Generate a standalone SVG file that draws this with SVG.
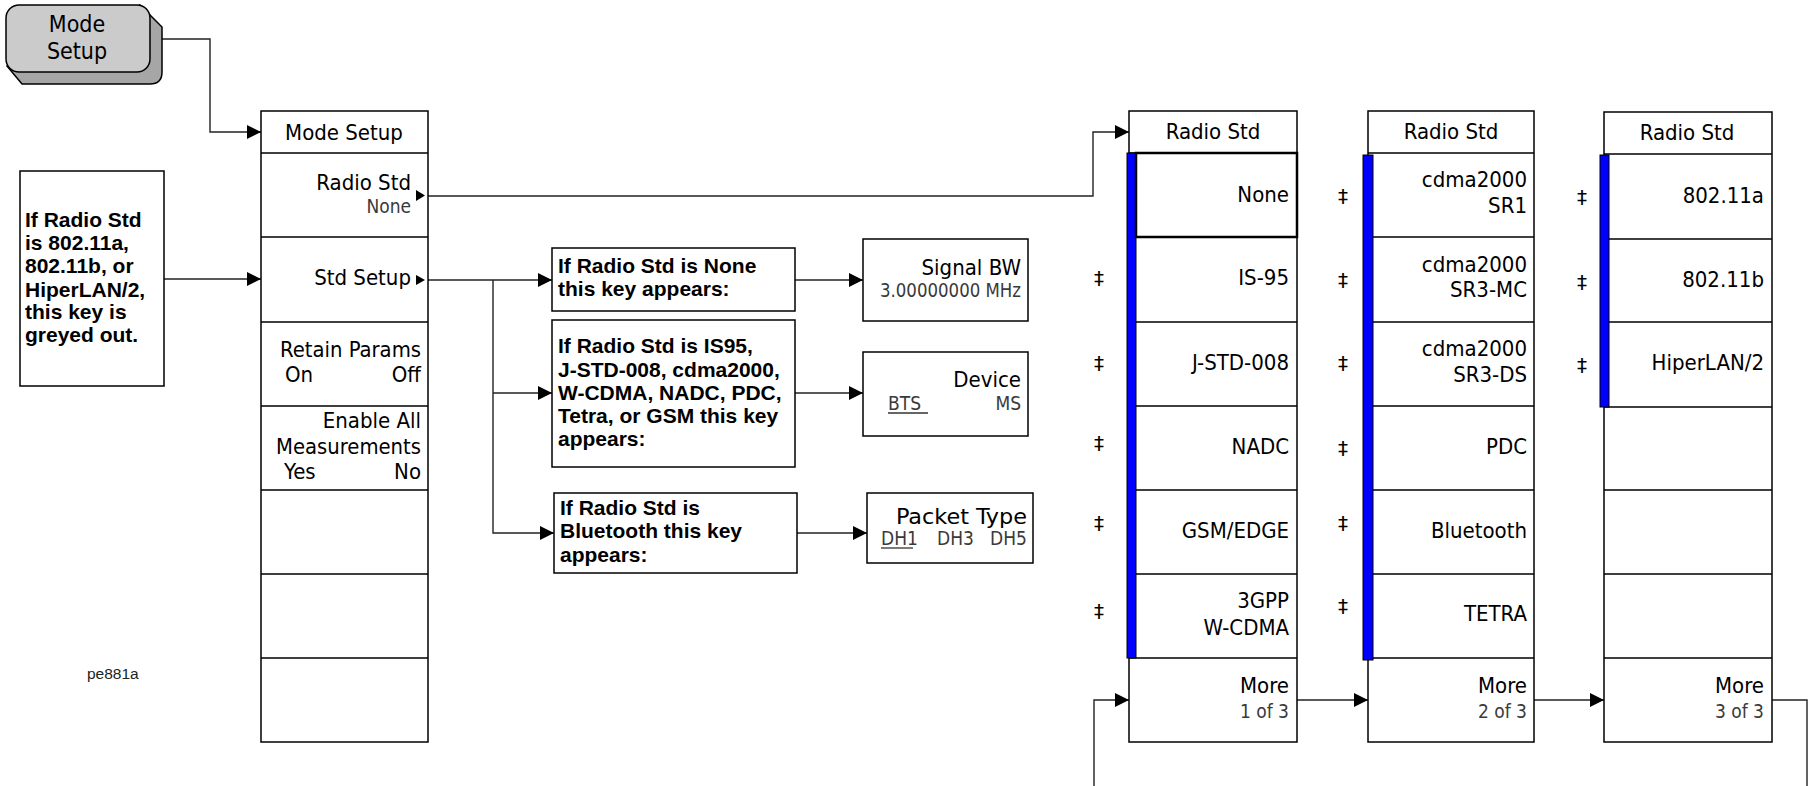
<svg xmlns="http://www.w3.org/2000/svg" width="1810" height="786" viewBox="0 0 1810 786">
<defs>
<marker id="arr" markerUnits="userSpaceOnUse" markerWidth="15" markerHeight="14" refX="14" refY="7" orient="auto">
<path d="M0,0 L14,7 L0,14 z" fill="#000"/>
</marker>
<style>
.box{fill:#fff;stroke:#000;stroke-width:1.5}
.div{stroke:#000;stroke-width:1.5;fill:none}
.conn{fill:none;stroke:#222;stroke-width:1.4}
.k,.ke,.kc{font-family:"DejaVu Sans Condensed","DejaVu Sans",sans-serif;font-stretch:condensed;font-size:22px;fill:#000}
.ke{text-anchor:end}
.kc{text-anchor:middle}
.g,.ge{font-family:"DejaVu Sans Condensed","DejaVu Sans",sans-serif;font-stretch:condensed;font-size:19px;fill:#3a3a3a}
.ge{text-anchor:end}
.n{font-family:"Liberation Sans",Arial,sans-serif;font-size:21px;font-weight:bold;fill:#000}
.dd{font-family:"DejaVu Sans",sans-serif;font-size:20px;fill:#000;text-anchor:middle}
.blue{fill:#0000ff;stroke:#000;stroke-width:1}
</style>
</defs>
<rect width="1810" height="786" fill="#fff"/>

<g id="connectors">
<path class="conn" d="M162,39 H210 V132 H261" marker-end="url(#arr)"/>
<path class="conn" d="M164,279 H261" marker-end="url(#arr)"/>
<path class="conn" d="M428,196 H1093 V132 H1129" marker-end="url(#arr)"/>
<path class="conn" d="M428,280 H552" marker-end="url(#arr)"/>
<path class="conn" d="M493,280 V533 H554" marker-end="url(#arr)"/>
<path class="conn" d="M493,393 H552" marker-end="url(#arr)"/>
<path class="conn" d="M795,280 H863" marker-end="url(#arr)"/>
<path class="conn" d="M795,393 H863" marker-end="url(#arr)"/>
<path class="conn" d="M797,533 H867" marker-end="url(#arr)"/>
<path class="conn" d="M1297,700 H1368" marker-end="url(#arr)"/>
<path class="conn" d="M1534,700 H1604" marker-end="url(#arr)"/>
<path class="conn" d="M1772,700 H1807 V786"/>
<path class="conn" d="M1094,786 V700 H1129" marker-end="url(#arr)"/>
</g>

<g id="mode-setup-key">
<path d="M140,5 L162,27 V72 Q162,84 150,84 H22 L7,66 Z" fill="#a6a6a6" stroke="#000" stroke-width="1.5"/>
<rect x="6" y="5" width="144" height="67" rx="13" fill="#cbcbcb" stroke="#000" stroke-width="1.5"/>
<text class="kc" x="77" y="32" style="font-size:23px">Mode</text>
<text class="kc" x="77" y="59" style="font-size:23px">Setup</text>
</g>

<g id="note-greyed">
<rect class="box" x="20" y="171" width="144" height="215"/>
<text class="n" x="25" y="227">If Radio Std</text>
<text class="n" x="25" y="250">is 802.11a,</text>
<text class="n" x="25" y="273">802.11b, or</text>
<text class="n" x="25" y="297">HiperLAN/2,</text>
<text class="n" x="25" y="319">this key is</text>
<text class="n" x="25" y="342">greyed out.</text>
</g>

<g id="mode-setup-menu">
<rect class="box" x="261" y="111" width="167" height="631"/>
<path class="div" d="M261,153 H428 M261,237 H428 M261,322 H428 M261,406 H428 M261,490 H428 M261,574 H428 M261,658 H428"/>
<text class="kc" x="344" y="140">Mode Setup</text>
<text class="ke" x="411" y="190">Radio Std</text>
<text class="ge" x="411" y="213">None</text>
<path d="M416,190 L425,195.5 L416,201 z" fill="#000"/>
<text class="ke" x="411" y="285">Std Setup</text>
<path d="M416,275 L425,280 L416,285 z" fill="#000"/>
<text class="ke" x="421" y="357" textLength="141" lengthAdjust="spacingAndGlyphs">Retain Params</text>
<text class="k" x="285" y="382">On</text>
<text class="ke" x="421" y="382">Off</text>
<text class="ke" x="421" y="428">Enable All</text>
<text class="ke" x="421" y="454" textLength="145" lengthAdjust="spacingAndGlyphs">Measurements</text>
<text class="k" x="284" y="479">Yes</text>
<text class="ke" x="421" y="479">No</text>
</g>

<g id="cond-none">
<rect class="box" x="552" y="248" width="243" height="63"/>
<text class="n" x="558" y="273">If Radio Std is None</text>
<text class="n" x="558" y="296">this key appears:</text>
</g>
<g id="cond-device">
<rect class="box" x="552" y="320" width="243" height="147"/>
<text class="n" x="558" y="353">If Radio Std is IS95,</text>
<text class="n" x="558" y="377">J-STD-008, cdma2000,</text>
<text class="n" x="558" y="400">W-CDMA, NADC, PDC,</text>
<text class="n" x="558" y="423">Tetra, or GSM this key</text>
<text class="n" x="558" y="446">appears:</text>
</g>
<g id="cond-bluetooth">
<rect class="box" x="554" y="493" width="243" height="80"/>
<text class="n" x="560" y="515">If Radio Std is</text>
<text class="n" x="560" y="538">Bluetooth this key</text>
<text class="n" x="560" y="562">appears:</text>
</g>

<g id="key-signal-bw">
<rect class="box" x="863" y="239" width="165" height="82"/>
<text class="ke" x="1021" y="275">Signal BW</text>
<text class="ge" x="1021" y="297" textLength="141" lengthAdjust="spacingAndGlyphs">3.00000000 MHz</text>
</g>
<g id="key-device">
<rect class="box" x="863" y="352" width="165" height="84"/>
<text class="ke" x="1021" y="387">Device</text>
<text class="g" x="888" y="410">BTS</text>
<line x1="888" y1="413" x2="928" y2="413" stroke="#333" stroke-width="1.3"/>
<text class="ge" x="1021" y="410">MS</text>
</g>
<g id="key-packet-type">
<rect class="box" x="867" y="493" width="166" height="70"/>
<text class="ke" x="1027" y="524" textLength="131" lengthAdjust="spacingAndGlyphs">Packet Type</text>
<text class="g" x="881" y="545">DH1</text>
<line x1="881" y1="548" x2="913" y2="548" stroke="#333" stroke-width="1.3"/>
<text class="g" x="937" y="545">DH3</text>
<text class="ge" x="1027" y="545">DH5</text>
</g>

<g id="radio-std-menu-1">
<rect class="box" x="1129" y="111" width="168" height="631"/>
<path class="div" d="M1129,153 H1297 M1129,237 H1297 M1129,322 H1297 M1129,406 H1297 M1129,490 H1297 M1129,574 H1297 M1129,658 H1297"/>
<rect class="blue" x="1127" y="153" width="9" height="505"/>
<rect x="1136" y="153" width="161" height="84" fill="none" stroke="#000" stroke-width="2.5"/>
<text class="kc" x="1213" y="139">Radio Std</text>
<text class="ke" x="1289" y="202">None</text>
<text class="ke" x="1289" y="285">IS-95</text>
<text class="ke" x="1289" y="370">J-STD-008</text>
<text class="ke" x="1289" y="454">NADC</text>
<text class="ke" x="1289" y="538">GSM/EDGE</text>
<text class="ke" x="1289" y="608">3GPP</text>
<text class="ke" x="1289" y="635">W-CDMA</text>
<text class="ke" x="1289" y="693">More</text>
<text class="ge" x="1289" y="718">1 of 3</text>
<text class="dd" x="1099" y="285">‡</text>
<text class="dd" x="1099" y="370">‡</text>
<text class="dd" x="1099" y="450">‡</text>
<text class="dd" x="1099" y="530">‡</text>
<text class="dd" x="1099" y="618">‡</text>
</g>

<g id="radio-std-menu-2">
<rect class="box" x="1368" y="111" width="166" height="631"/>
<path class="div" d="M1368,153 H1534 M1368,237 H1534 M1368,322 H1534 M1368,406 H1534 M1368,490 H1534 M1368,574 H1534 M1368,658 H1534"/>
<rect class="blue" x="1363" y="155" width="10" height="505"/>
<text class="kc" x="1451" y="139">Radio Std</text>
<text class="ke" x="1527" y="187">cdma2000</text>
<text class="ke" x="1527" y="213">SR1</text>
<text class="ke" x="1527" y="272">cdma2000</text>
<text class="ke" x="1527" y="297">SR3-MC</text>
<text class="ke" x="1527" y="356">cdma2000</text>
<text class="ke" x="1527" y="382">SR3-DS</text>
<text class="ke" x="1527" y="454">PDC</text>
<text class="ke" x="1527" y="538">Bluetooth</text>
<text class="ke" x="1527" y="621">TETRA</text>
<text class="ke" x="1527" y="693">More</text>
<text class="ge" x="1527" y="718">2 of 3</text>
<text class="dd" x="1343" y="203">‡</text>
<text class="dd" x="1343" y="287">‡</text>
<text class="dd" x="1343" y="370">‡</text>
<text class="dd" x="1343" y="455">‡</text>
<text class="dd" x="1343" y="530">‡</text>
<text class="dd" x="1343" y="613">‡</text>
</g>

<g id="radio-std-menu-3">
<rect class="box" x="1604" y="112" width="168" height="630"/>
<path class="div" d="M1604,154 H1772 M1604,239 H1772 M1604,322 H1772 M1604,407 H1772 M1604,490 H1772 M1604,574 H1772 M1604,658 H1772"/>
<rect class="blue" x="1600" y="155" width="9" height="252"/>
<text class="kc" x="1687" y="140">Radio Std</text>
<text class="ke" x="1764" y="203">802.11a</text>
<text class="ke" x="1764" y="287">802.11b</text>
<text class="ke" x="1764" y="370">HiperLAN/2</text>
<text class="ke" x="1764" y="693">More</text>
<text class="ge" x="1764" y="718">3 of 3</text>
<text class="dd" x="1582" y="204">‡</text>
<text class="dd" x="1582" y="289">‡</text>
<text class="dd" x="1582" y="372">‡</text>
</g>

<text id="figure-id" x="87" y="679" font-family="Liberation Sans, Arial, sans-serif" font-size="15.5" fill="#222">pe881a</text>
</svg>
